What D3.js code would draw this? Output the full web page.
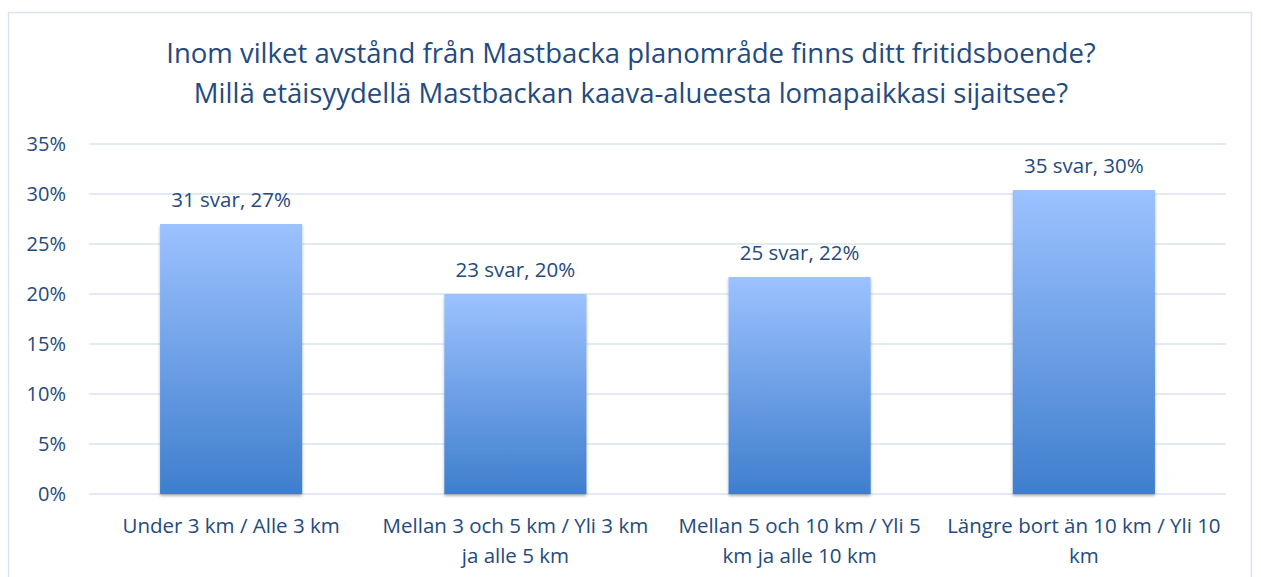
<!DOCTYPE html>
<html lang="sv">
<head>
    <meta charset="utf-8">
    <title>Avstånd till fritidsboende</title>
    <script src="https://cdn.jsdelivr.net/npm/d3@7"></script>
    <style>
        body { margin: 0; background: #fff; font-family: 'Open Sans', sans-serif; }
        svg text { fill: #244a7e; }
    </style>
</head>
<body>
<svg id="chart"></svg>
<script>
    // data
    var categories = [
        ["Under 3 km / Alle 3 km"],
        ["Mellan 3 och 5 km / Yli 3 km", "ja alle 5 km"],
        ["Mellan 5 och 10 km / Yli 5", "km ja alle 10 km"],
        ["Längre bort än 10 km / Yli 10", "km"]
    ];
    var answers = [31, 23, 25, 35];
    var shares = [0.270, 0.200, 0.217, 0.304];
    var barLabels = ["31 svar, 27%", "23 svar, 20%", "25 svar, 22%", "35 svar, 30%"];
    var yTicks = [0, 0.05, 0.10, 0.15, 0.20, 0.25, 0.30, 0.35];
    var titleLines = [
        "Inom vilket avstånd från Mastbacka planområde finns ditt fritidsboende?",
        "Millä etäisyydellä Mastbackan kaava-alueesta lomapaikkasi sijaitsee?"
    ];

    var width = 1261, height = 577;
    var svg = d3.select("#chart").attr("width", width).attr("height", height);

    // outer frame
    svg.append("rect")
        .attr("x", 8.5).attr("y", 12.5)
        .attr("width", 1243).attr("height", 580)
        .attr("fill", "none").attr("stroke", "#d9e3f2").attr("stroke-width", 1.5);

    var defs = svg.append("defs");
    var grad = defs.append("linearGradient")
        .attr("id", "barGrad").attr("x1", 0).attr("y1", 0).attr("x2", 0).attr("y2", 1);
    grad.append("stop").attr("offset", "0%").attr("stop-color", "#9cc2ff");
    grad.append("stop").attr("offset", "100%").attr("stop-color", "#3f7ecd");

    var shadow = defs.append("filter").attr("id", "shadow")
        .attr("x", "-10%").attr("y", "-10%").attr("width", "120%").attr("height", "120%");
    shadow.append("feDropShadow")
        .attr("dx", 0).attr("dy", 2).attr("stdDeviation", 1.5)
        .attr("flood-color", "#000").attr("flood-opacity", 0.3);

    var x = d3.scaleBand()
        .domain(d3.range(categories.length))
        .range([89, 1226])
        .paddingInner(0.5).paddingOuter(0.25);

    var y = d3.scaleLinear().domain([0, 0.35]).range([494, 144]);

    // title
    svg.append("g").selectAll("text")
        .data(titleLines)
        .enter().append("text")
        .attr("x", 631)
        .attr("y", function(d, i) { return 63 + i * 40; })
        .attr("text-anchor", "middle")
        .style("font-size", "27.5px")
        .text(function(d) { return d; });

    // gridlines
    svg.append("g").selectAll("line")
        .data(yTicks)
        .enter().append("line")
        .attr("x1", 89).attr("x2", 1226)
        .attr("y1", function(d) { return y(d); })
        .attr("y2", function(d) { return y(d); })
        .attr("stroke", "#d9e3f2").attr("stroke-width", 1.5);

    // y axis labels
    svg.append("g").selectAll("text")
        .data(yTicks)
        .enter().append("text")
        .attr("x", 66)
        .attr("y", function(d) { return y(d) + 7; })
        .attr("text-anchor", "end")
        .style("font-size", "20px")
        .text(d3.format(".0%"));

    // bars
    svg.append("g").selectAll("rect")
        .data(shares)
        .enter().append("rect")
        .attr("x", function(d, i) { return x(i); })
        .attr("y", function(d) { return y(d); })
        .attr("width", x.bandwidth())
        .attr("height", function(d) { return y(0) - y(d); })
        .attr("fill", "url(#barGrad)")
        .attr("filter", "url(#shadow)");

    // value labels
    svg.append("g").selectAll("text")
        .data(shares)
        .enter().append("text")
        .attr("x", function(d, i) { return x(i) + x.bandwidth() / 2; })
        .attr("y", function(d) { return y(d) - 17; })
        .attr("text-anchor", "middle")
        .style("font-size", "20.5px")
        .text(function(d, i) { return barLabels[i]; });

    // category labels
    var cat = svg.append("g").selectAll("text")
        .data(categories)
        .enter().append("text")
        .attr("text-anchor", "middle")
        .style("font-size", "20.5px");
    cat.selectAll("tspan")
        .data(function(d, i) { return d.map(function(s) { return { s: s, i: i }; }); })
        .enter().append("tspan")
        .attr("x", function(d) { return x(d.i) + x.bandwidth() / 2; })
        .attr("y", function(d, j) { return 533 + j * 30; })
        .text(function(d) { return d.s; });
</script>
</body>
</html>
